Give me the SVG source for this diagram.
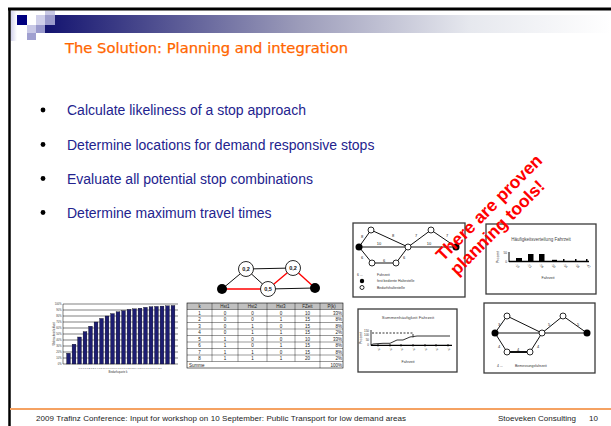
<svg xmlns="http://www.w3.org/2000/svg" width="611" height="426" viewBox="0 0 611 426">
<defs>
<linearGradient id="hdr" x1="0" y1="0" x2="1" y2="0">
<stop offset="0" stop-color="#141470"/>
<stop offset="0.45" stop-color="#9c9cba"/>
<stop offset="0.75" stop-color="#e6e8ee"/>
<stop offset="1" stop-color="#ffffff"/>
</linearGradient>
<linearGradient id="lstrip" x1="0" y1="0" x2="1" y2="0">
<stop offset="0" stop-color="#d4d4ec"/>
<stop offset="1" stop-color="#ffffff"/>
</linearGradient>
<style>
.bul{font-family:"Liberation Sans",Arial,sans-serif;font-size:14px;fill:#23238e}
.tiny{font-family:"Liberation Sans",Arial,sans-serif;font-size:3.5px;fill:#333}
.tb{font-family:"Liberation Sans",Arial,sans-serif;font-size:4.5px;fill:#222}
.box{fill:#fff;stroke:#3a3a3a;stroke-width:1.3}
.edge{stroke:#111;stroke-width:1;fill:none}
.red{stroke:#ff0000;stroke-width:1.4;fill:none}
.open{fill:#fff;stroke:#111;stroke-width:0.9}
.blk{fill:#000}
.grid{stroke:#000;stroke-width:0.5}
.bar{fill:#1d1d72;stroke:#000;stroke-width:0.3}
</style>
</defs>
<rect width="611" height="426" fill="#fff"/>

<g id="header">
<rect x="11" y="11" width="6" height="30" fill="url(#lstrip)"/>
<rect x="45" y="15" width="566" height="18" fill="url(#hdr)"/>
<rect x="45" y="10.5" width="10" height="4.5" fill="#c8c8e4"/>
<rect x="17" y="15" width="10" height="10" fill="#000080"/>
<rect x="36" y="15" width="9" height="10" fill="#d0d0ea"/>
<rect x="45" y="15" width="10" height="10" fill="#9c9ccc"/>
<rect x="27" y="25" width="9" height="8" fill="#c8c8e6"/>
<rect x="36" y="25" width="9" height="8" fill="#9999cc"/>
<rect x="27" y="33" width="9" height="7" fill="#a0a0d0"/>
</g>

<g id="frame">
<line x1="8" y1="9" x2="611" y2="9" stroke="#000" stroke-width="3"/>
<line x1="9.5" y1="8" x2="9.5" y2="426" stroke="#000" stroke-width="2.5"/>
</g>

<g id="title">
<text x="65" y="53" font-family="'DejaVu Sans',Verdana,sans-serif" font-size="14.5" fill="#ff6600" stroke="#ff6600" stroke-width="0.25" textLength="283" lengthAdjust="spacingAndGlyphs">The Solution: Planning and integration</text>
</g>

<g id="bullets">
<circle cx="43" cy="110" r="2.4" fill="#000"/>
<text class="bul" x="67" y="115">Calculate likeliness of a stop approach</text>
<circle cx="43" cy="144.5" r="2.4" fill="#000"/>
<text class="bul" x="67" y="149.5">Determine locations for demand responsive stops</text>
<circle cx="43" cy="178.5" r="2.4" fill="#000"/>
<text class="bul" x="67" y="183.5">Evaluate all potential stop combinations</text>
<circle cx="43" cy="212.5" r="2.4" fill="#000"/>
<text class="bul" x="67" y="217.5">Determine maximum travel times</text>
</g>

<g id="barchart">
<g class="grid">
<line x1="63" y1="304" x2="178" y2="304"/><line x1="63" y1="310" x2="178" y2="310"/>
<line x1="63" y1="316" x2="178" y2="316"/><line x1="63" y1="322" x2="178" y2="322"/>
<line x1="63" y1="328" x2="178" y2="328"/><line x1="63" y1="334" x2="178" y2="334"/>
<line x1="63" y1="340" x2="178" y2="340"/><line x1="63" y1="346" x2="178" y2="346"/>
<line x1="63" y1="352" x2="178" y2="352"/><line x1="63" y1="358" x2="178" y2="358"/>
<line x1="63" y1="364" x2="178" y2="364"/><line x1="63" y1="304" x2="63" y2="364"/>
</g>
<g class="bar">
<rect x="66.6" y="353.2" width="3.8" height="10.8"/>
<rect x="72.1" y="344.2" width="3.8" height="19.8"/>
<rect x="77.6" y="337" width="3.8" height="27"/>
<rect x="83.1" y="331.6" width="3.8" height="32.4"/>
<rect x="88.6" y="326.2" width="3.8" height="37.8"/>
<rect x="94.1" y="322" width="3.8" height="42"/>
<rect x="99.6" y="318.4" width="3.8" height="45.6"/>
<rect x="105.1" y="316" width="3.8" height="48"/>
<rect x="110.6" y="313.6" width="3.8" height="50.4"/>
<rect x="116.1" y="311.8" width="3.8" height="52.2"/>
<rect x="121.6" y="310.6" width="3.8" height="53.4"/>
<rect x="127.1" y="309.4" width="3.8" height="54.6"/>
<rect x="132.6" y="308.8" width="3.8" height="55.2"/>
<rect x="138.1" y="308.2" width="3.8" height="55.8"/>
<rect x="143.6" y="307.3" width="3.8" height="56.7"/>
<rect x="149.1" y="306.7" width="3.8" height="57.3"/>
<rect x="154.6" y="306.4" width="3.8" height="57.6"/>
<rect x="160.1" y="306.1" width="3.8" height="57.9"/>
<rect x="165.6" y="305.8" width="3.8" height="58.2"/>
<rect x="171.1" y="305.5" width="3.8" height="58.5"/>
</g>
<g font-family="Liberation Sans,Arial,sans-serif" font-size="2.6" fill="#333" text-anchor="end">
<text x="61.5" y="305">100%</text><text x="61.5" y="311">90%</text><text x="61.5" y="317">80%</text>
<text x="61.5" y="323">70%</text><text x="61.5" y="329">60%</text><text x="61.5" y="335">50%</text>
<text x="61.5" y="341">40%</text><text x="61.5" y="347">30%</text><text x="61.5" y="353">20%</text>
<text x="61.5" y="359">10%</text><text x="61.5" y="365">0%</text>
</g>
<text x="120" y="368.5" font-family="Liberation Sans,Arial,sans-serif" font-size="2.4" fill="#444" text-anchor="middle">0,0 0,1 0,2 0,3 0,4 0,5 0,6 0,7 0,8 0,9 1,0 1,1 1,2 1,3 1,4 1,5 1,6 1,7 1,8 1,9 2,0</text>
<text x="118" y="373" font-family="Liberation Sans,Arial,sans-serif" font-size="2.8" fill="#333" text-anchor="middle">Bedarfsquote k</text>
<text transform="translate(54.5,334) rotate(-90)" font-family="Liberation Sans,Arial,sans-serif" font-size="2.8" fill="#333" text-anchor="middle">Wahrscheinlichkeit</text>
</g>

<g id="table">
<rect x="187" y="303" width="156" height="6.5" fill="#c0c0c0"/>
<rect x="187" y="303" width="156" height="65" fill="none" stroke="#000" stroke-width="0.6"/>
<g stroke="#000" stroke-width="0.4">
<line x1="187" y1="309.5" x2="343" y2="309.5"/><line x1="187" y1="316" x2="343" y2="316"/>
<line x1="187" y1="322.5" x2="343" y2="322.5"/><line x1="187" y1="329" x2="343" y2="329"/>
<line x1="187" y1="335.5" x2="343" y2="335.5"/><line x1="187" y1="342" x2="343" y2="342"/>
<line x1="187" y1="348.5" x2="343" y2="348.5"/><line x1="187" y1="355" x2="343" y2="355"/>
<line x1="187" y1="361.5" x2="343" y2="361.5"/>
<line x1="212" y1="303" x2="212" y2="361.5"/><line x1="238" y1="303" x2="238" y2="361.5"/>
<line x1="267" y1="303" x2="267" y2="361.5"/><line x1="295" y1="303" x2="295" y2="361.5"/>
<line x1="320" y1="303" x2="320" y2="368"/>
</g>
<g class="tb" text-anchor="middle">
<text x="199.5" y="308">k</text><text x="225" y="308">Hst1</text><text x="252.5" y="308">Hst2</text><text x="281" y="308">Hst3</text><text x="307.5" y="308">FZeit</text><text x="331.5" y="308">P(k)</text>
<text x="199.5" y="314.5">1</text><text x="225" y="314.5">0</text><text x="252.5" y="314.5">0</text><text x="281" y="314.5">0</text><text x="307.5" y="314.5">10</text>
<text x="199.5" y="321">2</text><text x="225" y="321">0</text><text x="252.5" y="321">0</text><text x="281" y="321">1</text><text x="307.5" y="321">15</text>
<text x="199.5" y="327.5">3</text><text x="225" y="327.5">0</text><text x="252.5" y="327.5">1</text><text x="281" y="327.5">0</text><text x="307.5" y="327.5">15</text>
<text x="199.5" y="334">4</text><text x="225" y="334">0</text><text x="252.5" y="334">1</text><text x="281" y="334">1</text><text x="307.5" y="334">15</text>
<text x="199.5" y="340.5">5</text><text x="225" y="340.5">1</text><text x="252.5" y="340.5">0</text><text x="281" y="340.5">0</text><text x="307.5" y="340.5">10</text>
<text x="199.5" y="347">6</text><text x="225" y="347">1</text><text x="252.5" y="347">0</text><text x="281" y="347">1</text><text x="307.5" y="347">15</text>
<text x="199.5" y="353.5">7</text><text x="225" y="353.5">1</text><text x="252.5" y="353.5">1</text><text x="281" y="353.5">0</text><text x="307.5" y="353.5">15</text>
<text x="199.5" y="360">8</text><text x="225" y="360">1</text><text x="252.5" y="360">1</text><text x="281" y="360">1</text><text x="307.5" y="360">20</text>
</g>
<g class="tb" text-anchor="end">
<text x="342" y="314.5">33%</text><text x="342" y="321">8%</text><text x="342" y="327.5">8%</text><text x="342" y="334">2%</text>
<text x="342" y="340.5">33%</text><text x="342" y="347">8%</text><text x="342" y="353.5">8%</text><text x="342" y="360">2%</text>
<text x="342" y="366.5">100%</text>
</g>
<text class="tb" x="189" y="366.5">Summe</text>
</g>

<g id="stopgraph">
<g class="edge">
<line x1="222" y1="289" x2="246" y2="269"/>
<line x1="246" y1="269" x2="293" y2="268"/>
<line x1="246" y1="269" x2="268" y2="289"/>
<line x1="268" y1="289" x2="315" y2="288"/>
</g>
<g class="red">
<line x1="222" y1="289" x2="268" y2="289"/>
<line x1="268" y1="289" x2="293" y2="268"/>
<line x1="293" y1="268" x2="315" y2="288"/>
</g>
<circle cx="222" cy="289" r="5" class="blk"/>
<circle cx="315" cy="288" r="5" class="blk"/>
<circle cx="246" cy="269" r="7.5" class="open"/>
<circle cx="268" cy="289" r="7.5" class="open"/>
<circle cx="293" cy="268" r="7.5" class="open"/>
<g font-family="Liberation Sans,Arial,sans-serif" font-size="5.5" font-weight="bold" fill="#111" text-anchor="middle">
<text x="246" y="271">0,2</text><text x="268" y="291">0,5</text><text x="293" y="270">0,2</text>
</g>
</g>

<g id="network1">
<rect class="box" x="353" y="223" width="112" height="74"/>
<g class="edge">
<line x1="359" y1="247" x2="371" y2="230"/><line x1="371" y1="230" x2="408" y2="247"/>
<line x1="359" y1="247" x2="408" y2="247"/><line x1="408" y1="247" x2="456" y2="247"/>
<line x1="359" y1="247" x2="372" y2="263"/><line x1="372" y1="263" x2="396" y2="263"/>
<line x1="396" y1="263" x2="408" y2="247"/><line x1="408" y1="247" x2="431" y2="230"/>
<line x1="431" y1="230" x2="456" y2="247"/>
</g>
<circle cx="359" cy="247" r="3.5" class="blk"/><circle cx="456" cy="247" r="3.5" class="blk"/>
<circle cx="371" cy="230" r="3" class="open"/><circle cx="408" cy="247" r="3" class="open"/>
<circle cx="372" cy="263" r="3" class="open"/><circle cx="396" cy="263" r="3" class="open"/>
<circle cx="431" cy="230" r="3" class="open"/>
<g font-family="Liberation Sans,Arial,sans-serif" font-size="4" fill="#222" text-anchor="middle">
<text x="362" y="238">8</text><text x="393" y="237">8</text><text x="379" y="245">10</text><text x="429" y="245">10</text>
<text x="362" y="259">6</text><text x="384" y="261.5">6</text><text x="404" y="259">6</text>
<text x="416" y="237">7</text><text x="447" y="237">7</text>
</g>
<text class="tiny" x="357" y="276">6 ...</text><text class="tiny" x="377" y="276">Fahrzeit</text>
<circle cx="362" cy="281" r="2.2" class="blk"/><text class="tiny" x="377" y="282">fest bediente Haltestelle</text>
<circle cx="362" cy="287.5" r="2" class="open"/><text class="tiny" x="377" y="288.5">Bedarfshaltestelle</text>
</g>

<g id="histogram">
<rect class="box" x="486" y="224" width="110" height="70"/>
<text x="541" y="241" font-family="Liberation Sans,Arial,sans-serif" font-size="4.5" fill="#444" text-anchor="middle">Häufigkeitsverteilung Fahrzeit</text>
<line x1="509" y1="252" x2="509" y2="262" stroke="#000" stroke-width="1"/>
<line x1="509" y1="261.5" x2="589" y2="261.5" stroke="#000" stroke-width="1.5"/>
<g fill="#000">
<rect x="516" y="258" width="6" height="3.5"/>
<rect x="528" y="254" width="5.5" height="7.5"/>
<rect x="539" y="254" width="5.5" height="7.5"/>
<rect x="552" y="259.8" width="5" height="1.7"/>
<rect x="563" y="259" width="1.5" height="2.5"/>
<rect x="575" y="259" width="1.5" height="2.5"/>
<rect x="586" y="259" width="1.5" height="2.5"/>
</g>
<g font-family="Liberation Sans,Arial,sans-serif" font-size="3.2" fill="#333" text-anchor="end">
<text x="507" y="254">50</text><text x="507" y="263">0</text>
</g>
<text transform="translate(499,257) rotate(-90)" font-family="Liberation Sans,Arial,sans-serif" font-size="3.5" fill="#333" text-anchor="middle">Prozent</text>
<g font-family="Liberation Sans,Arial,sans-serif" font-size="3.2" fill="#333">
<text transform="translate(515,265) rotate(45)">-19</text>
<text transform="translate(527,265) rotate(45)">-23</text>
<text transform="translate(539,265) rotate(45)">-26</text>
<text transform="translate(551,265) rotate(45)">-30</text>
<text transform="translate(563,265) rotate(45)">-34</text>
<text transform="translate(575,265) rotate(45)">-38</text>
<text transform="translate(586,265) rotate(45)">-42</text>
</g>
<text x="548" y="279" font-family="Liberation Sans,Arial,sans-serif" font-size="3.6" fill="#333" text-anchor="middle">Fahrzeit</text>
</g>

<g id="cumulative">
<rect class="box" x="358" y="309" width="99" height="63"/>
<text x="408" y="319" font-family="Liberation Sans,Arial,sans-serif" font-size="4.3" fill="#444" text-anchor="middle">Summenhäufigkeit Fahrzeit</text>
<line x1="371" y1="330" x2="371" y2="345.5" stroke="#000" stroke-width="0.8"/>
<line x1="371" y1="345.3" x2="452" y2="345.3" stroke="#000" stroke-width="1.2"/>
<g stroke="#000" stroke-width="0.8">
<line x1="378" y1="344" x2="378" y2="346.5"/><line x1="390" y1="344" x2="390" y2="346.5"/>
<line x1="401" y1="344" x2="401" y2="346.5"/><line x1="413" y1="344" x2="413" y2="346.5"/>
<line x1="425" y1="344" x2="425" y2="346.5"/><line x1="436" y1="344" x2="436" y2="346.5"/>
<line x1="448" y1="344" x2="448" y2="346.5"/>
</g>
<polyline points="372,333 413,333 413,338" fill="none" stroke="#000" stroke-width="0.8" stroke-dasharray="2,1.5"/>
<polyline points="371,345 373,344 383,343.3 390,343.3 397,340 403,340 410,337 417,336 450,336" fill="none" stroke="#000" stroke-width="0.8"/>
<g font-family="Liberation Sans,Arial,sans-serif" font-size="3" fill="#333" text-anchor="end">
<text x="369" y="331.5">150</text><text x="369" y="336">100</text><text x="369" y="341">50</text><text x="369" y="346">0</text>
</g>
<text transform="translate(362,338) rotate(-90)" font-family="Liberation Sans,Arial,sans-serif" font-size="3.5" fill="#333" text-anchor="middle">Prozent</text>
<g font-family="Liberation Sans,Arial,sans-serif" font-size="3" fill="#333">
<text transform="translate(377,349) rotate(45)">-9</text>
<text transform="translate(389,349) rotate(45)">-9</text>
<text transform="translate(400,349) rotate(45)">-9</text>
<text transform="translate(412,349) rotate(45)">-9</text>
<text transform="translate(424,349) rotate(45)">-9</text>
<text transform="translate(435,349) rotate(45)">-9</text>
<text transform="translate(447,349) rotate(45)">-9</text>
</g>
<text x="408" y="362.5" font-family="Liberation Sans,Arial,sans-serif" font-size="3.6" fill="#333" text-anchor="middle">Fahrzeit</text>
</g>

<g id="network2">
<rect class="box" x="484" y="303" width="111" height="70"/>
<g class="edge">
<line x1="495" y1="333" x2="507" y2="316"/><line x1="507" y1="316" x2="542" y2="333"/>
<line x1="495" y1="333" x2="542" y2="333"/><line x1="542" y1="333" x2="587" y2="333"/>
<line x1="495" y1="333" x2="507" y2="352"/><line x1="530" y1="352" x2="542" y2="333"/>
<line x1="542" y1="333" x2="563" y2="316"/><line x1="563" y1="316" x2="587" y2="333"/>
</g>
<line x1="507" y1="352" x2="530" y2="352" stroke="#111" stroke-width="2"/>
<circle cx="495" cy="333" r="3.5" class="blk"/><circle cx="587" cy="333" r="3.5" class="blk"/>
<circle cx="507" cy="316" r="3" class="open"/><circle cx="542" cy="333" r="3" class="open"/>
<circle cx="507" cy="352" r="3" class="open"/><circle cx="530" cy="352" r="3" class="open"/>
<circle cx="563" cy="316" r="3" class="open"/>
<g font-family="Liberation Sans,Arial,sans-serif" font-size="4" fill="#222" text-anchor="middle">
<text x="499" y="326">3</text><text x="499" y="348">4</text><text x="518" y="350.5">4</text>
<text x="538" y="348">4</text><text x="549" y="326">5</text><text x="578" y="326">5</text>
</g>
<text class="tiny" x="497" y="367">4 ...</text><text class="tiny" x="515" y="367">Bemessungsfahrzeit</text>
</g>

<g id="callout">
<g transform="translate(443,262) rotate(-45)" font-family="'Liberation Sans',Arial,sans-serif" font-size="17.5" font-weight="bold" fill="#ff0000">
<text x="0" y="0">There are proven</text>
<text x="0" y="20">planning tools!</text>
</g>
</g>

<g id="footer">
<line x1="10" y1="409" x2="611" y2="409" stroke="#f5a262" stroke-width="1.8"/>
<text x="36" y="421" font-family="'Liberation Sans',Arial,sans-serif" font-size="8" fill="#222" textLength="370" lengthAdjust="spacing">2009 Trafinz Conference: Input for workshop on 10 September: Public Transport for low demand areas</text>
<text x="498" y="421" font-family="'Liberation Sans',Arial,sans-serif" font-size="8" fill="#222">Stoeveken Consulting</text>
<text x="589" y="421" font-family="'Liberation Sans',Arial,sans-serif" font-size="8" fill="#222">10</text>
</g>
</svg>
